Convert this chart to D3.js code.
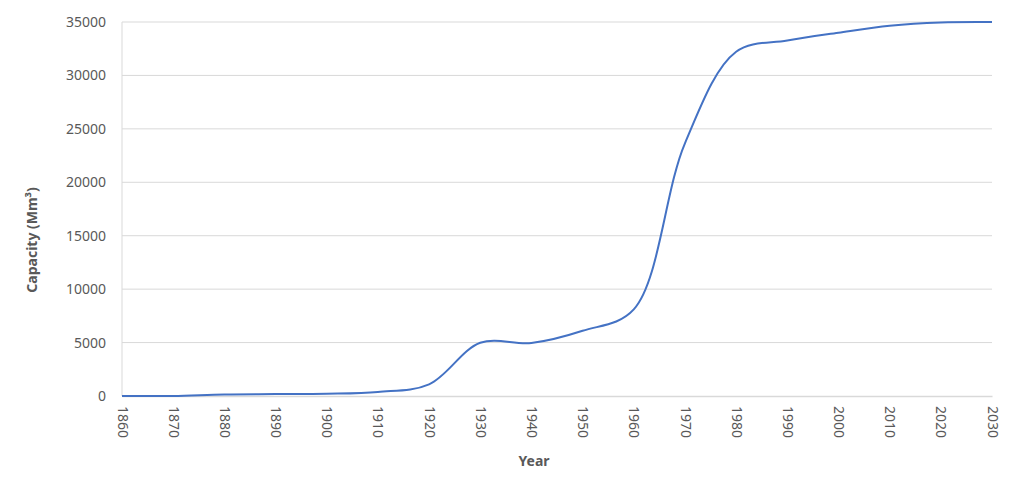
<!DOCTYPE html>
<html><head><meta charset="utf-8">
<script src="https://cdn.jsdelivr.net/npm/d3@7"></script>
<style>body{margin:0;background:#fff}svg{display:block}</style>
</head><body>
<svg id="c" width="1024" height="486"></svg>
<script>
const years = [1860,1870,1880,1890,1900,1910,1920,1930,1940,1950,1960,1970,1980,1990,2000,2010,2020,2030];
const capacity = [0,10,150,180,210,380,1090,4980,4960,6100,8100,23650,32220,33270,34000,34650,34960,35000];
const yTicks = [0,5000,10000,15000,20000,25000,30000,35000];
const xTicks = [1860,1870,1880,1890,1900,1910,1920,1930,1940,1950,1960,1970,1980,1990,2000,2010,2020,2030];

const svg = d3.select("#c");
const m = {l:122, r:992, t:22, b:396};
const x = d3.scaleLinear().domain([1860,2030]).range([m.l,m.r]);
const y = d3.scaleLinear().domain([0,35000]).range([m.b,m.t]);
const font = "'Noto Sans', sans-serif";
const grey = "#595959";

// gridlines
svg.append("g").selectAll("line").data(yTicks.filter(d=>d>0)).join("line")
  .attr("x1",m.l).attr("x2",m.r).attr("y1",d=>y(d)).attr("y2",d=>y(d))
  .attr("stroke","#d9d9d9").attr("stroke-width",1);
// left axis line
svg.append("line").attr("x1",m.l).attr("x2",m.l).attr("y1",m.t).attr("y2",m.b)
  .attr("stroke","#d9d9d9");
// y labels
const ya = svg.append("g").attr("transform",`translate(${m.l},0)`)
  .call(d3.axisLeft(y).tickValues(yTicks).tickSize(0).tickPadding(16).tickFormat(d3.format("d")));
ya.select(".domain").remove();
ya.selectAll("text").attr("font-family",font).attr("font-size",14).attr("fill",grey);

// x axis
const xa = svg.append("g").attr("transform",`translate(0,${m.b})`)
  .call(d3.axisBottom(x).tickValues(xTicks).tickSize(0).tickFormat(d3.format("d")));
xa.select(".domain").attr("stroke","#d9d9d9").attr("stroke-width",1.5);
xa.selectAll("text").attr("font-family",font).attr("font-size",14).attr("fill",grey)
  .attr("transform","rotate(90)").attr("text-anchor","start")
  .attr("x",10).attr("y",0).attr("dy","0.35em");

// line
const line = d3.line().x((d,i)=>x(years[i])).y(d=>y(d)).curve(d3.curveCatmullRom.alpha(0.5));
svg.append("path").datum(capacity).attr("d",line)
  .attr("fill","none").attr("stroke","#4472C4").attr("stroke-width",2);

// axis titles
svg.append("text").attr("x",534).attr("y",466).attr("text-anchor","middle")
  .attr("font-family",font).attr("font-size",14).attr("font-weight","bold").attr("fill",grey).text("Year");
svg.append("text").attr("transform","translate(37,240) rotate(-90)").attr("text-anchor","middle")
  .attr("font-family",font).attr("font-size",14).attr("font-weight","bold").attr("fill",grey)
  .text("Capacity (Mm³)");
</script>
</body></html>
